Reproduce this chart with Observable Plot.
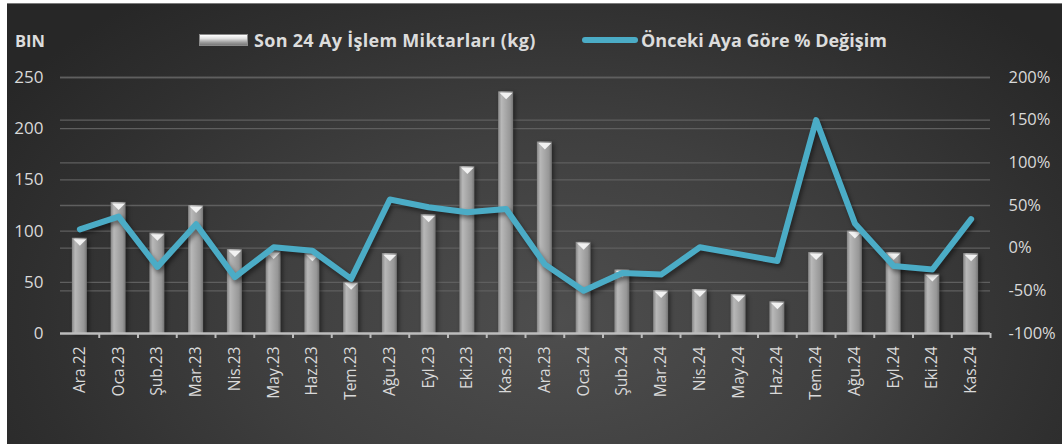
<!DOCTYPE html>
<html><head><meta charset="utf-8">
<script src="https://cdn.jsdelivr.net/npm/d3@7"></script>
<script src="https://cdn.jsdelivr.net/npm/@observablehq/plot@0.6"></script>
<style>
html,body{margin:0;padding:0;background:#fff;}
#wrap{position:relative;width:1062px;height:444px;overflow:hidden;font-family:"Open Sans",sans-serif;}
#bg{position:absolute;left:7px;top:3px;right:0;bottom:0;
  background:radial-gradient(ellipse 62% 95% at 52% 72%, #4e4e4e 0%, #3f3f3f 45%, #2f2f2f 80%, #272727 100%);
  border-top:1px solid #7a7a7a;}
#legend{position:relative;height:60px;color:#dcdcdc;font-weight:bold;}
#legend .t{position:absolute;top:28px;font-size:18px;white-space:nowrap;line-height:24px;}
#legend .sw-bar{position:absolute;left:199px;top:34px;width:49px;height:12px;
  background:linear-gradient(#ffffff 0%, #e0e0e0 35%, #9a9a9a 75%, #7a7a7a 100%);border:1px solid #8a8a8a;box-sizing:border-box;}
#legend .sw-line{position:absolute;left:582px;top:37px;width:56px;height:6px;border-radius:3px;background:#4bacc6;}
#chart{position:relative;}
.sline{filter:drop-shadow(2px 3px 2px rgba(0,0,0,0.45));}
.sbar{filter:drop-shadow(2px 2px 2px rgba(0,0,0,0.45));}
</style>
</head><body>
<div id="wrap">
  <div id="bg"></div>
  <div id="legend">
    <span class="t" style="left:15px;font-size:16.5px;top:29px;">BIN</span>
    <div class="sw-bar"></div>
    <span class="t" style="left:254px;letter-spacing:0.3px;">Son 24 Ay İşlem Miktarları (kg)</span>
    <div class="sw-line"></div>
    <span class="t" style="left:641px;">Önceki Aya Göre % Değişim</span>
  </div>
  <div id="chart"></div>
</div>
<script>
const months = ["Ara.22","Oca.23","Şub.23","Mar.23","Nis.23","May.23","Haz.23","Tem.23","Ağu.23","Eyl.23","Eki.23","Kas.23",
  "Ara.23","Oca.24","Şub.24","Mar.24","Nis.24","May.24","Haz.24","Tem.24","Ağu.24","Eyl.24","Eki.24","Kas.24"];
const volumes = [93,128,98,125,82,80,78,50,78,116,163,236,187,89,62,42,43,38,31,79,100,79,58,78];
const changes = [22,37,-22,28,-34,1,-3,-36,57,48,42,46,-19,-50,-29,-31,1,-7,-15,150,29,-21,-25,34];
const leftTicks = [0,50,100,150,200,250];
const rightTicks = [-100,-50,0,50,100,150,200];

const data = months.map((m,i)=>({month:m, vol:volumes[i], pct:changes[i]}));
const toLeft = p => (p + 100) * 250 / 300;
const fromLeft = v => v * 300 / 250 - 100;

const W = 1062, ML = 60, MR = 72;
const step = (W - ML - MR) / months.length;
const pad = 0.613;

const flatTri = {draw(ctx){ ctx.moveTo(-6.5,1); ctx.lineTo(6.5,1); ctx.lineTo(0,7.5); ctx.closePath(); }};

const svg = Plot.plot({
  width: W, height: 384,
  marginLeft: ML, marginRight: MR, marginTop: 17, marginBottom: 111,
  style: {background:"transparent", color:"#d9d9d9", fontFamily:"'Open Sans',sans-serif", fontSize:"16px"},
  x: {type:"band", domain: months, paddingInner: pad, paddingOuter: pad / 2, round: false, label: null},
  y: {domain:[0,250], label: null},
  marks: [
    Plot.ruleY(leftTicks.slice(1), {stroke:"#5f5f5f", strokeWidth:1.3}),
    Plot.ruleY(rightTicks.slice(1).map(toLeft), {stroke:"#5f5f5f", strokeWidth:1.3}),
    Plot.barY(data, {x:"month", y:"vol", fill:"url(#barGrad)", className:"sbar"}),
    Plot.dot(data, {x:"month", y:"vol", symbol: flatTri, r: 5, fill:"#f2f2f2", stroke:null}),
    Plot.ruleY([0], {stroke:"#bdbdbd", strokeWidth:2.5}),
    Plot.axisX({tickSize:5, tickFormat:()=>"", dx: step/2, stroke:"#bdbdbd", strokeWidth:2, label:null}),
    Plot.axisX({tickSize:0, tickRotate:-90, tickPadding:13, fontSize:15.5, fill:"#d9d9d9", label:null}),
    Plot.axisY(leftTicks, {anchor:"left", tickSize:0, tickPadding:17, fontSize:17, fill:"#d9d9d9", label:null}),
    Plot.axisY(rightTicks.map(toLeft), {anchor:"right", tickSize:0, tickPadding:18, fontSize:16.5, fill:"#d9d9d9", label:null,
      tickFormat: v => Math.round(fromLeft(v)) + "%"}),
    Plot.line(data, {x:"month", y: d => toLeft(d.pct), stroke:"#4bacc6", strokeWidth:6,
      strokeLinejoin:"round", strokeLinecap:"round", className:"sline"})
  ]
});

const defs = d3.select(svg).insert("defs", ":first-child");
const g = defs.append("linearGradient").attr("id","barGrad").attr("x1","0").attr("x2","1").attr("y1","0").attr("y2","0");
[["0%","#858585"],["22%","#b8b8b8"],["45%","#ababab"],["80%","#979797"],["100%","#747474"]]
  .forEach(([o,c]) => g.append("stop").attr("offset",o).attr("stop-color",c));

document.getElementById("chart").appendChild(svg);
</script>
</body></html>
